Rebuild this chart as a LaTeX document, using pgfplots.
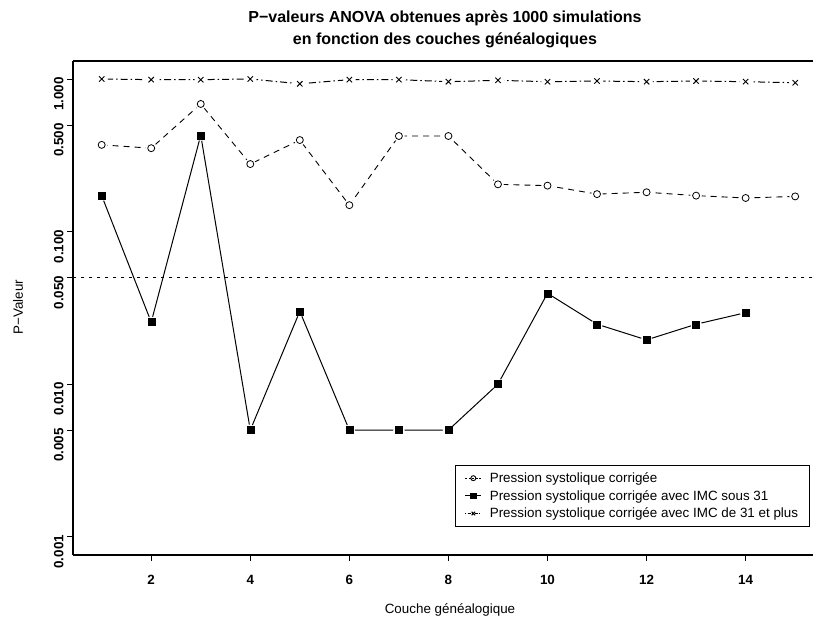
\documentclass[border=0pt]{standalone}
\usepackage{fontspec}
\setmainfont{Liberation Sans}
\usepackage{pgfplots}
\pgfplotsset{compat=1.18}
\pgfplotstableread{
x p
1 0.370
2 0.352
3 0.686
4 0.277
5 0.398
6 0.149
7 0.423
8 0.423
9 0.204
10 0.200
11 0.176
12 0.181
13 0.172
14 0.166
15 0.170
}\tabA
\pgfplotstableread{
x p
1 0.172
2 0.0255
3 0.428
4 0.005
5 0.030
6 0.005
7 0.005
8 0.005
9 0.010
10 0.0394
11 0.0247
12 0.0195
13 0.0247
14 0.0294
}\tabB
\pgfplotstableread{
x p
1 1.00
2 0.99
3 0.99
4 1.00
5 0.93
6 0.99
7 0.99
8 0.96
9 0.98
10 0.96
11 0.97
12 0.96
13 0.97
14 0.96
15 0.945
}\tabC
\begin{document}
\begin{tikzpicture}[x=1pt,y=1pt]
\useasboundingbox (-73,-65) rectangle (740,555);
\begin{axis}[
  at={(0,0)}, anchor=south west,
  scale only axis, width=740pt, height=494pt,
  xmin=0.421, xmax=15.36,
  ymode=log, ymin=0.000759, ymax=1.312,
  axis y line*=left, axis x line*=box,
  xtick={2,4,6,8,10,12,14},
  xticklabels={2,4,6,8,10,12,14},
  ytick={0.001,0.005,0.01,0.05,0.1,0.5,1},
  yticklabels={0.001,0.005,0.010,0.050,0.100,0.500,1.000},
  yminorticks=false, xminorticks=false,
  xtick pos=bottom, ytick pos=left,
  tick align=outside, major tick length=6pt,
  tick style={black, line width=0.8pt},
  ticklabel style={font=\fontsize{13.4}{16}\selectfont\bfseries},
  yticklabel style={rotate=90, anchor=south, xshift=-15pt},
  xticklabel style={yshift=-11pt},
  axis line style={line width=1.2pt},
  legend style={at={(0.9955,0.1822)}, anchor=north east, draw=black, line width=1pt,
    font=\fontsize{13.4}{15}\selectfont, cells={anchor=west}, row sep=2.3pt,
    inner xsep=9pt, inner ysep=5pt, column sep=6pt},
  legend image code/.code={\draw[mark repeat=2,mark phase=2,#1] plot coordinates {(0pt,0pt) (8pt,0pt) (16pt,0pt)};},
]
% threshold
\addplot[forget plot, black, line width=1pt, dash pattern=on 3pt off 5pt] coordinates {(0.421,0.05) (15.36,0.05)};
% series A: circles, dashed
\addplot[forget plot, black, line width=0.9pt, dash pattern=on 6pt off 5pt] table[x=x,y=p] {\tabA};
\addplot[forget plot, only marks, mark=*, mark size=5.5pt, white] table[x=x,y=p] {\tabA};
\addplot[forget plot, only marks, mark=o, mark size=3.5pt, black, line width=0.8pt] table[x=x,y=p] {\tabA};
% series B: squares, solid
\addplot[forget plot, black, line width=1pt] table[x=x,y=p] {\tabB};
\addplot[forget plot, only marks, mark=*, mark size=5.5pt, white] table[x=x,y=p] {\tabB};
\addplot[forget plot, only marks, mark=square*, mark size=3.5pt, black] table[x=x,y=p] {\tabB};
% series C: crosses, dot-dash
\addplot[forget plot, black, line width=1pt, dash pattern=on 1.5pt off 3pt on 7pt off 3pt] table[x=x,y=p] {\tabC};
\addplot[forget plot, only marks, mark=*, mark size=6pt, white] table[x=x,y=p] {\tabC};
\addplot[forget plot, only marks, mark=x, mark size=3.8pt, black, line width=0.9pt] table[x=x,y=p] {\tabC};
\addlegendimage{black, line width=0.9pt, dash pattern=on 2pt off 1.5pt, mark=o, mark size=2.5pt, mark options={solid}}
\addlegendentry{Pression systolique corrigée}
\addlegendimage{black, line width=1pt, mark=square*, mark size=2.8pt}
\addlegendentry{Pression systolique corrigée avec IMC sous 31}
\addlegendimage{black, line width=1pt, dash pattern=on 1pt off 1.5pt on 3pt off 1.5pt, mark=x, mark size=2.5pt, mark options={solid}}
\addlegendentry{Pression systolique corrigée avec IMC de 31 et plus}
\end{axis}
\node[font=\fontsize{16}{22}\selectfont\bfseries, align=center] at (372,526)
  {P−valeurs ANOVA obtenues après 1000 simulations\\en fonction des couches généalogiques};
\node[font=\fontsize{13.4}{16}\selectfont] at (377,-55) {Couche généalogique};
\node[font=\fontsize{13.4}{16}\selectfont, rotate=90] at (-55,248) {P−Valeur};
\end{tikzpicture}
\end{document}
